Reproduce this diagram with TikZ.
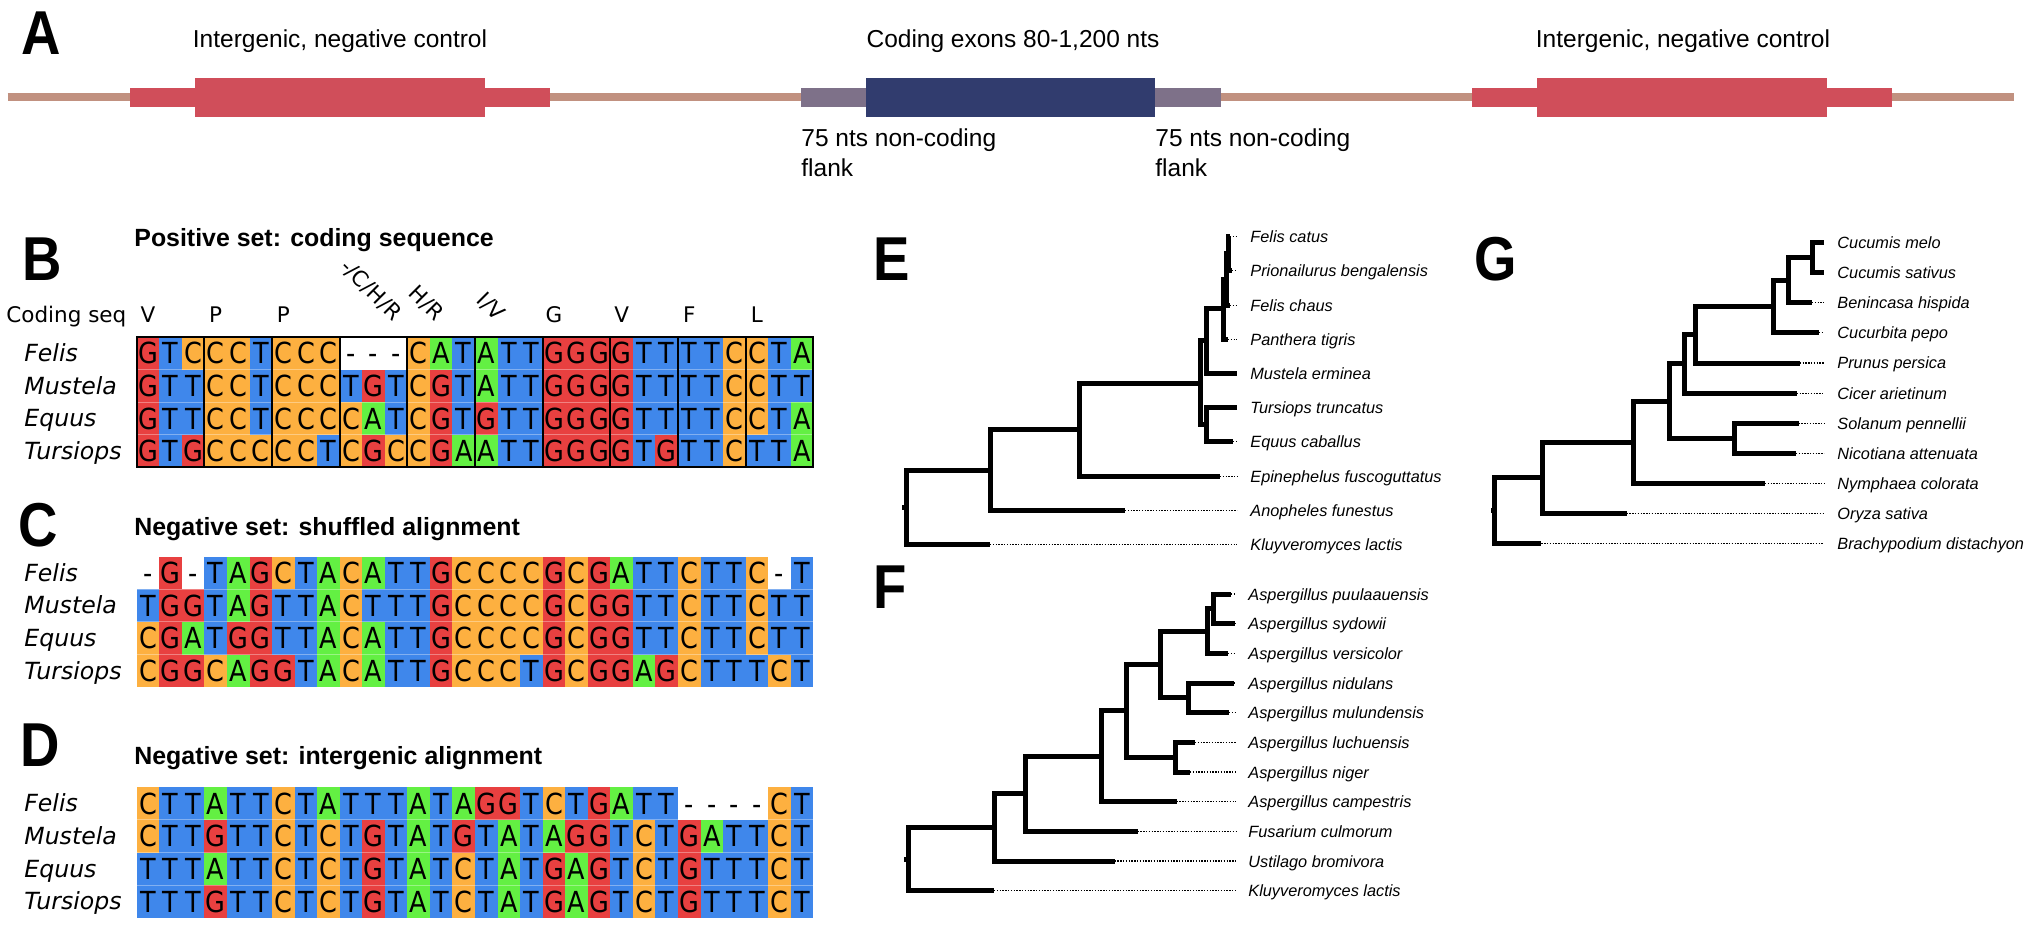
\documentclass[tikz,border=0pt]{standalone}
\usepackage{fontspec}
\setmainfont{Liberation Sans}
\newfontfamily\panelfont[FakeStretch=0.88]{Liberation Sans}
\newfontfamily\alnfont{DejaVu Sans}
\newfontfamily\nucfont[FakeStretch=0.88]{DejaVu Sans}
\usetikzlibrary{positioning}

\definecolor{chrom}{RGB}{193,145,128}
\definecolor{intergenic}{RGB}{208,78,90}
\definecolor{flankcol}{RGB}{126,113,137}
\definecolor{exoncol}{RGB}{49,60,110}
\definecolor{nucA}{RGB}{99,240,67}
\definecolor{nucC}{RGB}{253,176,64}
\definecolor{nucG}{RGB}{232,64,64}
\definecolor{nucT}{RGB}{63,135,235}

\tikzset{
    nA/.style={fill=nucA}, nC/.style={fill=nucC},
    nG/.style={fill=nucG}, nT/.style={fill=nucT},
    n-/.style={fill=white}
}

% one alignment row: prefix, row top, species, bases
\newcommand{\alnrow}[4]{%
    \node[rowname] (#1-name) at (24,#2+24.5) {#3};
    \foreach \nt [count=\i from 0] in {#4}
        \node[cell, n\nt] (#1-\i) at (148.075+22.55*\i,#2+16.3) {\nt};
}

\begin{document}
\begin{tikzpicture}[
    x=0.5pt, y=-0.5pt,
    panel/.style={font=\panelfont\bfseries\fontsize{31}{31}\selectfont, anchor=base west, inner sep=0pt},
    title/.style={font=\fontsize{12.45}{14}\selectfont\bfseries, anchor=base west, inner sep=0pt},
    genelabel/.style={font=\fontsize{12.25}{15}\selectfont, inner sep=0pt},
    rowname/.style={font=\alnfont\itshape\fontsize{11.8}{12}\selectfont, anchor=base west, inner sep=0pt},
    aalabel/.style={font=\alnfont\fontsize{10.75}{12}\selectfont, inner sep=0pt},
    cell/.style={minimum width=11.3pt, minimum height=16.3pt, inner sep=0pt,
        text height=10.6pt, text depth=0pt, font=\nucfont\fontsize{14.5}{14.5}\selectfont},
    rowsep/.style={white, opacity=0.35, line width=0.5pt},
    codon/.style={black, line width=1pt},
    branch/.style={line width=2.5pt, line join=miter},
    leader/.style={line width=0.55pt, dash pattern=on 0.7pt off 0.7pt},
    leaf/.style={font=\fontsize{8.15}{9}\selectfont\itshape, anchor=west, inner sep=0pt,
        text height=6pt, text depth=0pt}
]
    \useasboundingbox (0,0) rectangle (2034,925);

    % A: genomic layout
    \node[panel] (pA) at (21,55) {A};
    \draw[chrom, line width=3.6pt] (7.6,97) -- (2014,97);
    \fill[intergenic] (130,88) rectangle (550,107);
    \fill[intergenic] (195,78) rectangle (485,117);
    \fill[flankcol] (801,88) rectangle (1221,107);
    \fill[exoncol] (866,78) rectangle (1155,117);
    \fill[intergenic] (1472,88) rectangle (1892,107);
    \fill[intergenic] (1537,78) rectangle (1827,117);
    \node[genelabel, anchor=base] (ctrl-l) at (340,48) {Intergenic, negative control};
    \node[genelabel, anchor=base] (exons) at (1013,48) {Coding exons 80-1,200 nts};
    \node[genelabel, anchor=base] (ctrl-r) at (1683,48) {Intergenic, negative control};
    \node[genelabel, anchor=base west] (flank-l1) at (801,147) {75 nts non-coding};
    \node[genelabel, anchor=base west] (flank-l2) at (801,177) {flank};
    \node[genelabel, anchor=base west] (flank-r1) at (1155,147) {75 nts non-coding};
    \node[genelabel, anchor=base west] (flank-r2) at (1155,177) {flank};

    % B: coding alignment
    \node[panel] (pB) at (22,280) {B};
    \node[title] (tB) at (134,247) {Positive set: coding sequence};
    \node[aalabel, anchor=base west] (codseq) at (6,322) {Coding seq};
    \foreach \i/\amino in {0/V,3/P,6/P,18/G,21/V,24/F,27/L}
        \node[aalabel, anchor=base] (aa-\i) at (148.075+22.55*\i,322) {\amino};
    \node[aalabel, rotate=-45, anchor=base east] (aa-9) at (393,322) {-/C/H/R};
    \node[aalabel, rotate=-45, anchor=base east] (aa-12) at (435,322) {H/R};
    \node[aalabel, rotate=-45, anchor=base east] (aa-15) at (496,322) {I/V};
    \alnrow{b1}{337}{Felis}{G,T,C,C,C,T,C,C,C,-,-,-,C,A,T,A,T,T,G,G,G,G,T,T,T,T,C,C,T,A}
    \alnrow{b2}{369.6}{Mustela}{G,T,T,C,C,T,C,C,C,T,G,T,C,G,T,A,T,T,G,G,G,G,T,T,T,T,C,C,T,T}
    \alnrow{b3}{402.2}{Equus}{G,T,T,C,C,T,C,C,C,C,A,T,C,G,T,G,T,T,G,G,G,G,T,T,T,T,C,C,T,A}
    \alnrow{b4}{434.8}{Tursiops}{G,T,G,C,C,C,C,C,T,C,G,C,C,G,A,A,T,T,G,G,G,G,T,G,T,T,C,T,T,A}
    \foreach \k in {1,2,3}
        \draw[rowsep] (136.8,337+32.6*\k) -- (813.3,337+32.6*\k);
    \foreach \k in {3,6,...,27}
        \draw[codon] (136.8+22.55*\k,337) -- (136.8+22.55*\k,467.4);
    \draw[codon] (136.8,337) rectangle (813.3,467.4);

    % C: shuffled alignment
    \node[panel] (pC) at (18,546) {C};
    \node[title] (tC) at (134,535) {Negative set: shuffled alignment};
    \alnrow{c1}{556.7}{Felis}{-,G,-,T,A,G,C,T,A,C,A,T,T,G,C,C,C,C,G,C,G,A,T,T,C,T,T,C,-,T}
    \alnrow{c2}{589.3}{Mustela}{T,G,G,T,A,G,T,T,A,C,T,T,T,G,C,C,C,C,G,C,G,G,T,T,C,T,T,C,T,T}
    \alnrow{c3}{621.9}{Equus}{C,G,A,T,G,G,T,T,A,C,A,T,T,G,C,C,C,C,G,C,G,G,T,T,C,T,T,C,T,T}
    \alnrow{c4}{654.5}{Tursiops}{C,G,G,C,A,G,G,T,A,C,A,T,T,G,C,C,C,T,G,C,G,G,A,G,C,T,T,T,C,T}
    \foreach \k in {1,2,3}
        \draw[rowsep] (136.8,556.7+32.6*\k) -- (813.3,556.7+32.6*\k);

    % D: intergenic alignment
    \node[panel] (pD) at (20,766) {D};
    \node[title] (tD) at (134,764) {Negative set: intergenic alignment};
    \alnrow{d1}{787.3}{Felis}{C,T,T,A,T,T,C,T,A,T,T,T,A,T,A,G,G,T,C,T,G,A,T,T,-,-,-,-,C,T}
    \alnrow{d2}{819.9}{Mustela}{C,T,T,G,T,T,C,T,C,T,G,T,A,T,G,T,A,T,A,G,G,T,C,T,G,A,T,T,C,T}
    \alnrow{d3}{852.5}{Equus}{T,T,T,A,T,T,C,T,C,T,G,T,A,T,C,T,A,T,G,A,G,T,C,T,G,T,T,T,C,T}
    \alnrow{d4}{885.1}{Tursiops}{T,T,T,G,T,T,C,T,C,T,G,T,A,T,C,T,A,T,G,A,G,T,C,T,G,T,T,T,C,T}
    \foreach \k in {1,2,3}
        \draw[rowsep] (136.8,787.3+32.6*\k) -- (813.3,787.3+32.6*\k);

    % E: vertebrate tree
    \node[panel] (pE) at (873,280) {E};
    \foreach \nm/\tip/\k/\lab in {fcat/1230/0/Felis catus, pben/1232/1/Prionailurus bengalensis,
            fcha/1230/2/Felis chaus, ptig/1228/3/Panthera tigris, merm/1237/4/Mustela erminea,
            ttru/1237/5/Tursiops truncatus, ecab/1233/6/Equus caballus,
            efus/1220/7/Epinephelus fuscoguttatus, afun/1125/8/Anopheles funestus,
            klac/990/9/Kluyveromyces lactis} {
        \node[leaf] (e-\nm) at (1250,236.7+34.2*\k) {\lab};
        \draw[leader] (\tip,236.7+34.2*\k) -- ([xshift=-6.5pt]e-\nm.west);
    }
    \draw[branch] (902,507.3) -- (906,507.3);
    \draw[branch] (990,470) -| (906,544.5) -- (990,544.5);
    \draw[branch] (1079,429.4) -| (990,510.3) -- (1125,510.3);
    \draw[branch] (1200,383.9) -| (1079,476.1) -- (1220,476.1);
    \draw[branch] (1206,340.8) -| (1200,424.8) -- (1206,424.8);
    \draw[branch] (1237,407.7) -| (1206,441.9) -- (1233,441.9);
    \draw[branch] (1223,308) -| (1206,373.5) -- (1237,373.5);
    \draw[branch] (1226,279.5) -| (1223,339.3) -- (1228,339.3);
    \draw[branch] (1228,253.8) -| (1226,305.1) -- (1230,305.1);
    \draw[branch] (1230,236.7) -| (1228,270.9) -- (1232,270.9);

    % F: fungal tree
    \node[panel] (pF) at (873,608) {F};
    \foreach \nm/\tip/\k/\lab in {apuu/1231/0/Aspergillus puulaauensis, asyd/1235/1/Aspergillus sydowii,
            aver/1228/2/Aspergillus versicolor, anid/1234/3/Aspergillus nidulans,
            amul/1229/4/Aspergillus mulundensis, aluc/1195/5/Aspergillus luchuensis,
            anig/1190/6/Aspergillus niger, acam/1176.5/7/Aspergillus campestris,
            fcul/1137.5/8/Fusarium culmorum, ubro/1114.5/9/Ustilago bromivora,
            klac/994/10/Kluyveromyces lactis} {
        \node[leaf] (f-\nm) at (1248,594+29.67*\k) {\lab};
        \draw[leader] (\tip,594+29.67*\k) -- ([xshift=-6pt]f-\nm.west);
    }
    \draw[branch] (904,859) -- (908,859);
    \draw[branch] (994,827.4) -| (908,890.7) -- (994,890.7);
    \draw[branch] (1025,793.8) -| (994,861) -- (1114.5,861);
    \draw[branch] (1101,756.2) -| (1025,831.3) -- (1137.5,831.3);
    \draw[branch] (1126.7,710.8) -| (1101,801.7) -- (1176.5,801.7);
    \draw[branch] (1160.4,664.4) -| (1126.7,757.2) -- (1175.7,757.2);
    \draw[branch] (1195,742.3) -| (1175.7,772) -- (1190,772);
    \draw[branch] (1207,631) -| (1160.4,697.8) -- (1188,697.8);
    \draw[branch] (1234,683) -| (1188,712.7) -- (1229,712.7);
    \draw[branch] (1213,608.8) -| (1207,653.3) -- (1228,653.3);
    \draw[branch] (1231,594) -| (1213,623.7) -- (1235,623.7);

    % G: plant tree
    \node[panel] (pG) at (1474,281) {G};
    \foreach \nm/\tip/\k/\lab in {cmel/1824/0/Cucumis melo, csat/1824/1/Cucumis sativus,
            bhis/1812/2/Benincasa hispida, cpep/1818.7/3/Cucurbita pepo,
            pper/1799.7/4/Prunus persica, cari/1796.7/5/Cicer arietinum,
            spen/1798.6/6/Solanum pennellii, natt/1796/7/Nicotiana attenuata,
            ncol/1765/8/Nymphaea colorata, osat/1626.5/9/Oryza sativa,
            bdis/1541.3/10/Brachypodium distachyon} {
        \node[leaf] (g-\nm) at (1837,242.7+30.07*\k) {\lab};
        \draw[leader] (\tip,242.7+30.07*\k) -- ([xshift=-6.5pt]g-\nm.west);
    }
    \draw[branch] (1491,510.6) -- (1494.8,510.6);
    \draw[branch] (1542.4,477.8) -| (1494.8,543.4) -- (1541.3,543.4);
    \draw[branch] (1633.9,442.2) -| (1542.4,513.3) -- (1626.5,513.3);
    \draw[branch] (1669.4,401) -| (1633.9,483.3) -- (1765,483.3);
    \draw[branch] (1684,363.9) -| (1669.4,438.2) -- (1734.5,438.2);
    \draw[branch] (1798.6,423.1) -| (1734.5,453.2) -- (1796,453.2);
    \draw[branch] (1695.4,334.8) -| (1684,393) -- (1796.7,393);
    \draw[branch] (1773,306.6) -| (1695.4,363) -- (1799.7,363);
    \draw[branch] (1788.7,280.3) -| (1773,332.9) -- (1818.7,332.9);
    \draw[branch] (1812,257.8) -| (1788.7,302.8) -- (1812,302.8);
    \draw[branch] (1824,242.7) -| (1812,272.8) -- (1824,272.8);
\end{tikzpicture}
\end{document}
